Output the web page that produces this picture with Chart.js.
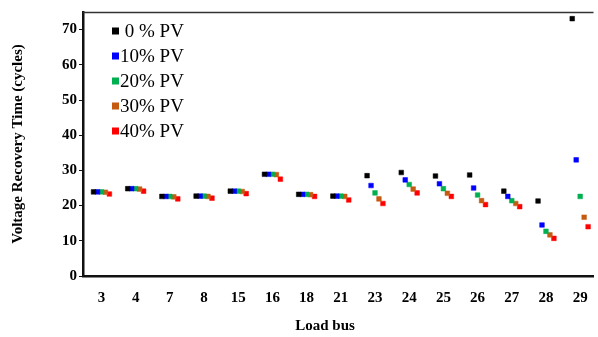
<!DOCTYPE html>
<html>
<head>
<meta charset="utf-8">
<script src="https://cdn.jsdelivr.net/npm/chart.js@4/dist/chart.umd.min.js"></script>
<style>
  html, body { margin: 0; padding: 0; background: #fff; }
  #wrap { width: 598px; height: 337px; position: relative; }
</style>
</head>
<body>
<div id="wrap"><canvas id="c" width="598" height="337"></canvas></div>
<script>
const loadBuses = ['3','4','7','8','15','16','18','21','23','24','25','26','27','28','29'];
const seriesNames = [' 0 % PV', '10% PV', '20% PV', '30% PV', '40% PV'];
const seriesColors = ['#000000', '#0000ff', '#00b050', '#c55a11', '#ff0000'];
const pv0  = [23.9, 24.8, 22.6, 22.7, 24.1, 28.9, 23.2, 22.7, 28.5, 29.4, 28.4, 28.7, 24.1, 21.3, 73.1];
const pv10 = [23.9, 24.8, 22.6, 22.7, 24.1, 28.9, 23.2, 22.7, 25.7, 27.3, 26.2, 25.0, 22.6, 14.5, 33.0];
const pv20 = [23.9, 24.8, 22.6, 22.7, 24.1, 28.9, 23.2, 22.7, 23.6, 26.0, 24.8, 23.0, 21.4, 12.7, 22.6];
const pv30 = [23.8, 24.7, 22.5, 22.6, 24.0, 28.8, 23.1, 22.6, 21.9, 24.7, 23.5, 21.4, 20.6, 11.7, 16.7];
const pv40 = [23.3, 24.1, 21.9, 22.1, 23.4, 27.5, 22.6, 21.6, 20.6, 23.6, 22.6, 20.3, 19.7, 10.7, 14.0];
const yTicks = [0, 10, 20, 30, 40, 50, 60, 70];

const allSeries = [pv0, pv10, pv20, pv30, pv40];
const groupSpread = 0.116; // offset between PV levels within a bus group

const datasets = allSeries.map((vals, j) => ({
  label: seriesNames[j],
  data: vals.map((v, i) => ({ x: i + (j - 2) * groupSpread, y: v })),
  backgroundColor: seriesColors[j],
  borderColor: seriesColors[j],
  pointStyle: 'rect',
  pointRadius: 3.3,
  pointBorderWidth: 0.5,
  showLine: false
}));

const serif = "'Liberation Serif', 'DejaVu Serif', serif";

const decor = {
  id: 'decor',
  afterDraw(chart) {
    const ctx = chart.ctx;
    const a = chart.chartArea;
    ctx.save();
    // top frame line
    ctx.strokeStyle = '#333333';
    ctx.lineWidth = 1.5;
    ctx.beginPath();
    ctx.moveTo(a.left, a.top + 0.5);
    ctx.lineTo(a.right, a.top + 0.5);
    ctx.stroke();
    // legend
    ctx.font = "19px " + serif;
    ctx.textBaseline = 'middle';
    ctx.textAlign = 'left';
    chart.data.datasets.forEach((ds, j) => {
      const y = 31 + j * 25;
      ctx.fillStyle = ds.backgroundColor;
      ctx.fillRect(112, y - 3.5, 7, 7);
      ctx.fillStyle = '#000';
      ctx.fillText(ds.label, 120, y + 1);
    });
    // x axis title
    ctx.font = "bold 15px " + serif;
    ctx.textAlign = 'center';
    ctx.fillText('Load bus', 325, 326);
    ctx.restore();
  }
};

new Chart(document.getElementById('c'), {
  type: 'scatter',
  data: { datasets },
  options: {
    responsive: false,
    animation: false,
    layout: { padding: { top: 12, right: 0, left: 0, bottom: 0 } },
    plugins: { legend: { display: false }, tooltip: { enabled: false } },
    scales: {
      x: {
        type: 'linear',
        min: -0.54,
        max: 14.39,
        afterBuildTicks: s => { s.ticks = loadBuses.map((b, i) => ({ value: i })); },
        afterFit: s => { s.height = 61; },
        ticks: {
          callback: (v) => loadBuses[v],
          color: '#000',
          font: { family: serif, size: 15, weight: 'bold' },
          padding: 5,
          maxRotation: 0,
          autoSkip: false
        },
        grid: { display: false },
        border: { display: true, color: '#111', width: 2.5 },
        title: { display: false }
      },
      y: {
        min: 0,
        max: 75,
        afterBuildTicks: s => { s.ticks = yTicks.map(v => ({ value: v })); },
        afterFit: s => { s.width = 83; },
        ticks: {
          color: '#000',
          font: { family: serif, size: 15, weight: 'bold' },
          padding: 2
        },
        grid: { display: true, drawOnChartArea: false, drawTicks: true, tickLength: 4, color: '#111', lineWidth: 1 },
        border: { display: true, color: '#111', width: 2.5 },
        title: {
          display: true,
          text: 'Voltage Recovery Time (cycles)',
          color: '#000',
          font: { family: serif, size: 15, weight: 'bold' },
          padding: { top: 9, bottom: 0 }
        }
      }
    }
  },
  plugins: [decor]
});
</script>
</body>
</html>
